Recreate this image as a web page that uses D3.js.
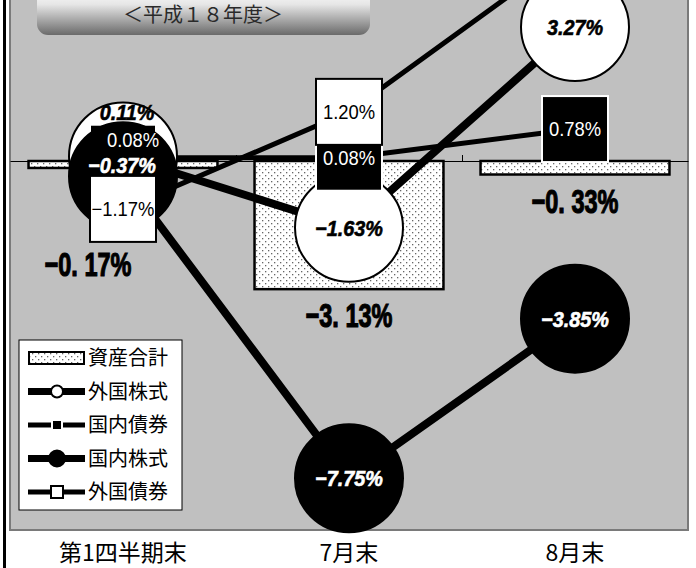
<!DOCTYPE html>
<html>
<head>
<meta charset="utf-8">
<script src="https://cdn.jsdelivr.net/npm/d3@7"></script>
<style>
	html, body { margin: 0; padding: 0; background: #fff; }
	svg { display: block; }
	.cjk { font-family: "Noto Sans CJK JP", "Noto Sans", sans-serif; }
	.num { font-family: "Liberation Sans", Arial, sans-serif; }
</style>
</head>
<body>
<div id="wrapper"></div>
<script>
// data (%)
const categories = ['第1四半期末', '7月末', '8月末'];
const totalAssets = [-0.17, -3.13, -0.33];      // 資産合計 (bars)
const foreignStocks = [0.11, -1.63, 3.27];      // 外国株式
const domesticBonds = [0.08, 0.08, 0.78];       // 国内債券
const domesticStocks = [-0.37, -7.75, -3.85];   // 国内株式
const foreignBonds = [-1.17, 1.20, 5.20];       // 外国債券 (last point is off the top)
const titleText = '＜平成１８年度＞';

// label nudges so overlapping labels stay readable (layout only)
const labelNudge = {
	'外国株式|第1四半期末': [4, -44],
	'国内債券|第1四半期末': [10, -18],
	'国内株式|第1四半期末': [-1, -11]
};
const barLabelNudge = { '第1四半期末': [-35, 70] };

(() => {
	const width = 696, height = 568;
	const plot = { left: 10, right: 688, top: -10, bottom: 530 };

	const svg = d3.select('#wrapper').append('svg')
		.attr('width', width)
		.attr('height', height);

	const defs = svg.append('defs');
	const dots = defs.append('pattern')
		.attr('id', 'dots')
		.attr('patternUnits', 'userSpaceOnUse')
		.attr('width', 6)
		.attr('height', 6);
	dots.append('rect').attr('width', 6).attr('height', 6).attr('fill', '#fff');
	dots.append('rect').attr('x', 1).attr('y', 1).attr('width', 1.3).attr('height', 1.3).attr('fill', '#666');
	dots.append('rect').attr('x', 4).attr('y', 4).attr('width', 1.3).attr('height', 1.3).attr('fill', '#666');

	const grad = defs.append('linearGradient')
		.attr('id', 'titleGrad')
		.attr('x1', 0).attr('y1', 0).attr('x2', 0).attr('y2', 1);
	grad.append('stop').attr('offset', '0%').attr('stop-color', '#ffffff');
	grad.append('stop').attr('offset', '35%').attr('stop-color', '#e6e6e6');
	grad.append('stop').attr('offset', '100%').attr('stop-color', '#6a6a6a');

	const x = d3.scaleBand()
		.domain(categories)
		.range([plot.left, plot.right])
		.padding(0);
	const y = d3.scaleLinear()
		.domain([-9, 0])
		.range([529.5, 161]);
	const cx = (c) => x(c) + x.bandwidth() / 2;
	const barWidth = x.bandwidth() * 0.836;

	// outer frame line
	svg.append('rect')
		.attr('x', 3).attr('y', 0)
		.attr('width', 3).attr('height', height)
		.attr('fill', '#000');

	// plot area
	svg.append('rect')
		.attr('x', plot.left).attr('y', plot.top)
		.attr('width', plot.right - plot.left)
		.attr('height', plot.bottom - plot.top)
		.attr('fill', '#c0c0c0')
		.attr('stroke', '#7a7a7a')
		.attr('stroke-width', 2);

	// title plate
	svg.append('rect')
		.attr('x', 37).attr('y', -12)
		.attr('width', 333).attr('height', 47)
		.attr('rx', 11)
		.attr('fill', 'url(#titleGrad)');
	svg.append('text')
		.attr('class', 'cjk')
		.attr('x', 203).attr('y', 22)
		.attr('text-anchor', 'middle')
		.attr('font-size', 20)
		.attr('fill', '#2a2a2a')
		.text(titleText);

	// zero line with category separators
	const sep = d3.scaleLinear().domain([0, categories.length]).range([plot.left, plot.right]);
	svg.append('g')
		.attr('transform', `translate(0,${y(0)})`)
		.call(d3.axisBottom(sep)
			.tickValues(d3.range(1, categories.length))
			.tickSize(-6)
			.tickSizeOuter(0)
			.tickFormat(''))
		.call(g => g.selectAll('path, line').attr('stroke', '#000').attr('stroke-width', 1));

	const condense = (sel, k) => {
		sel.each(function() {
			const n = this.getComputedTextLength();
			d3.select(this).attr('textLength', n * k).attr('lengthAdjust', 'spacingAndGlyphs');
		});
	};
	const pct = (v) => (v < 0 ? '\u2212' : '') + Math.abs(v).toFixed(2) + '%';
	const barPct = (v) => (v < 0 ? '\u2212' : '') + Math.abs(v).toFixed(2).replace('.', '. ') + '%';

	// bars: 資産合計
	const bars = categories.map((c, i) => ({ c, v: totalAssets[i] }));
	svg.append('g').selectAll('rect')
		.data(bars)
		.enter()
		.append('rect')
		.attr('x', d => cx(d.c) - barWidth / 2)
		.attr('y', d => Math.min(y(d.v), y(0)))
		.attr('width', barWidth)
		.attr('height', d => Math.abs(y(d.v) - y(0)))
		.attr('fill', 'url(#dots)')
		.attr('stroke', '#000')
		.attr('stroke-width', 2.5);

	const series = [
		{ name: '外国株式', values: foreignStocks, shape: 'circle', fill: '#fff', stroke: '#000', lw: 8, text: '#000', big: true },
		{ name: '国内債券', values: domesticBonds, shape: 'square', fill: '#000', stroke: '#fff', lw: 5, text: '#fff', big: false },
		{ name: '国内株式', values: domesticStocks, shape: 'circle', fill: '#000', stroke: '#000', lw: 8, text: '#fff', big: true },
		{ name: '外国債券', values: foreignBonds, shape: 'square', fill: '#fff', stroke: '#000', lw: 5, text: '#000', big: false }
	];
	series.forEach(s => {
		s.points = categories.map((c, i) => ({ s, c, v: s.values[i] }));
	});

	// lines
	const line = d3.line().x(d => cx(d.c)).y(d => y(d.v));
	svg.append('g').selectAll('path')
		.data(series)
		.enter()
		.append('path')
		.attr('d', d => line(d.points))
		.attr('fill', 'none')
		.attr('stroke', '#000')
		.attr('stroke-width', d => d.lw);

	// markers (label shapes)
	const R = 54, S = 66;
	const markers = svg.append('g');
	series.forEach(s => {
		const g = markers.append('g');
		if (s.shape === 'circle') {
			g.selectAll('circle')
				.data(s.points)
				.enter()
				.append('circle')
				.attr('cx', d => cx(d.c))
				.attr('cy', d => y(d.v))
				.attr('r', R)
				.attr('fill', s.fill)
				.attr('stroke', s.stroke)
				.attr('stroke-width', 2);
		} else {
			g.selectAll('rect')
				.data(s.points)
				.enter()
				.append('rect')
				.attr('x', d => cx(d.c) - S / 2)
				.attr('y', d => y(d.v) - S / 2)
				.attr('width', S)
				.attr('height', S)
				.attr('fill', s.fill)
				.attr('stroke', s.stroke)
				.attr('stroke-width', 2);
		}
	});

	// point labels (only for points that sit inside the visible area)
	const labels = svg.append('g').attr('class', 'num');
	series.forEach(s => {
		const t = labels.append('g').selectAll('text')
			.data(s.points.filter(d => y(d.v) > 0))
			.enter()
			.append('text')
			.attr('x', d => cx(d.c) + (labelNudge[s.name + '|' + d.c] || [0, 0])[0])
			.attr('y', d => y(d.v) + (labelNudge[s.name + '|' + d.c] || [0, 0])[1])
			.attr('dy', '0.36em')
			.attr('text-anchor', 'middle')
			.attr('fill', s.text)
			.attr('stroke', s.big ? s.text : 'none')
			.attr('stroke-width', 0.6)
			.attr('font-size', s.big ? 22 : 20)
			.attr('font-weight', s.big ? 'bold' : 'normal')
			.attr('font-style', s.big ? 'italic' : 'normal')
			.text(d => pct(d.v));
		condense(t, s.big ? 0.9 : 0.92);
	});

	// bar labels
	const bl = labels.append('g').selectAll('text')
		.data(bars)
		.enter()
		.append('text')
		.attr('x', d => cx(d.c) + (barLabelNudge[d.c] || [0, 0])[0])
		.attr('y', d => y(d.v) + 26 + (barLabelNudge[d.c] || [0, 0])[1])
		.attr('dy', '0.36em')
		.attr('text-anchor', 'middle')
		.attr('font-size', 34)
		.attr('font-weight', 'bold')
		.attr('fill', '#000')
		.attr('stroke', '#000')
		.attr('stroke-width', 1.2)
		.text(d => barPct(d.v));
	condense(bl, 0.69);

	// category labels
	svg.append('g')
		.attr('class', 'cjk')
		.selectAll('text')
		.data(categories)
		.enter()
		.append('text')
		.attr('x', d => cx(d))
		.attr('y', 561)
		.attr('text-anchor', 'middle')
		.attr('font-size', 23)
		.attr('fill', '#000')
		.text(d => d);

	// legend
	const legend = svg.append('g').attr('transform', 'translate(19,340)');
	legend.append('rect')
		.attr('width', 163).attr('height', 170)
		.attr('fill', '#fff')
		.attr('stroke', '#000')
		.attr('stroke-width', 1);
	const items = [{ name: '資産合計', bar: true }].concat(series);
	const row = legend.selectAll('g.item')
		.data(items)
		.enter()
		.append('g')
		.attr('class', 'item')
		.attr('transform', (d, i) => `translate(0,${18 + i * 33.5})`);
	row.each(function(d) {
		const g = d3.select(this);
		if (d.bar) {
			g.append('rect')
				.attr('x', 10).attr('y', -6)
				.attr('width', 55).attr('height', 12)
				.attr('fill', 'url(#dots)')
				.attr('stroke', '#000')
				.attr('stroke-width', 2);
			return;
		}
		g.append('line')
			.attr('x1', 9).attr('x2', 66)
			.attr('stroke', '#000')
			.attr('stroke-width', d.lw === 8 ? 7 : 5);
		if (d.shape === 'circle') {
			g.append('circle')
				.attr('cx', 38)
				.attr('r', d.fill === '#000' ? 8 : 6)
				.attr('fill', d.fill)
				.attr('stroke', '#000')
				.attr('stroke-width', 2);
		} else {
			const sz = d.fill === '#000' ? 10 : 12;
			g.append('rect')
				.attr('x', 38 - sz / 2).attr('y', -sz / 2)
				.attr('width', sz).attr('height', sz)
				.attr('fill', d.fill)
				.attr('stroke', d.fill === '#000' ? '#fff' : '#000')
				.attr('stroke-width', 2);
		}
	});
	row.append('text')
		.attr('class', 'cjk')
		.attr('x', 69)
		.attr('y', 7)
		.attr('font-size', 20)
		.attr('fill', '#000')
		.text(d => d.name);
})();
</script>
</body>
</html>
